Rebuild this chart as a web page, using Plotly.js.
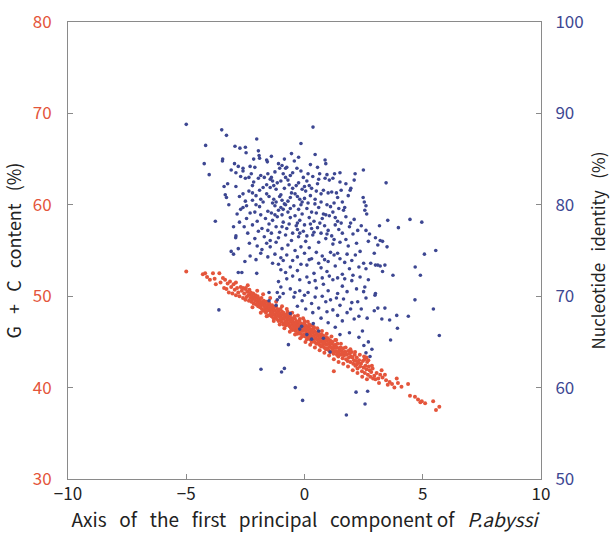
<!DOCTYPE html>
<html>
<head>
<meta charset="utf-8">
<script src="https://cdn.plot.ly/plotly-3.0.1.min.js"></script>
<style>html,body{margin:0;padding:0;background:#fff;}#chart{width:613px;height:543px;}</style>
</head>
<body>
<div id="chart"></div>
<script>
// G+C content (%) vs first principal component axis  [x, G+C]
const gcPoints = [
[-5.0,52.7],[-4.3,52.4],[-4.2,52.5],[-4.12,52.1],[-4.0,51.8],[-3.87,52.5],[-3.75,51.3],[-3.6,52.5],[-3.55,51.5],[-3.45,52.0],[-3.36,51.8],[-3.3,50.8],[-3.25,51.4],[-3.15,51.6],[-3.1,51.0],[-3.05,50.3],[-3.0,51.3],[-2.95,50.7],[-2.9,50.1],[-2.85,50.9],[-2.8,50.4],[-2.75,50.0],[-2.7,51.0],[-2.65,50.6],[-2.6,49.8],[-2.55,50.3],[-2.5,50.8],[-2.5,49.6],
[-2.48,50.9],[-2.45,49.9],[-2.42,50.5],[-2.38,50.1],[-2.35,49.5],[-2.33,50.7],[-2.31,50.2],
[-2.29,49.8],[-2.27,50.4],[-2.24,49.4],[-2.22,50.0],[-2.2,49.7],[-2.17,50.3],[-2.15,49.2],[-2.12,49.9],
[-2.09,49.5],[-2.07,50.1],[-2.05,49.1],[-2.03,49.8],[-2.0,49.4],[-1.98,50.0],[-1.96,48.9],[-1.94,49.6],[-1.92,49.2],
[-1.9,49.7],[-1.88,48.8],[-1.86,49.4],[-1.84,49.0],[-1.82,49.8],[-1.8,48.6],[-1.78,49.3],[-1.76,49.1],[-1.74,48.4],[-1.72,49.5],[-1.7,48.9],
[-1.69,49.3],[-1.67,48.6],[-1.65,49.0],[-1.63,48.2],[-1.61,49.4],[-1.59,48.8],[-1.57,48.5],[-1.55,49.1],[-1.53,47.9],[-1.51,48.7],
[-1.49,49.2],[-1.47,48.4],[-1.45,48.9],[-1.43,48.1],[-1.41,48.6],[-1.39,47.8],[-1.37,49.0],[-1.35,48.3],[-1.33,48.7],[-1.31,47.6],[-1.3,48.5],
[-1.29,48.8],[-1.27,48.0],[-1.25,48.4],[-1.23,47.7],[-1.21,48.9],[-1.19,48.2],[-1.17,47.5],[-1.15,48.6],[-1.13,47.9],[-1.11,48.3],[-1.1,47.3],
[-1.09,48.5],[-1.07,47.8],[-1.05,48.1],[-1.03,47.4],[-1.01,48.6],[-0.99,47.9],[-0.97,47.2],[-0.95,48.3],[-0.93,47.6],[-0.91,48.0],[-0.9,46.9],
[-0.89,48.2],[-0.87,47.5],[-0.85,47.9],[-0.83,47.1],[-0.81,47.7],[-0.79,46.8],[-0.77,48.0],[-0.75,47.3],[-0.73,47.6],[-0.71,46.9],[-0.7,47.4],[-0.72,48.3],
[-0.69,47.8],[-0.67,47.0],[-0.65,47.5],[-0.63,46.7],[-0.61,47.9],[-0.59,47.2],[-0.57,46.5],[-0.55,47.6],[-0.53,46.9],[-0.51,47.3],[-0.5,46.3],[-0.6,48.1],
[-0.49,47.5],[-0.47,46.7],[-0.45,47.1],[-0.43,46.4],[-0.41,47.6],[-0.39,46.9],[-0.37,46.2],[-0.35,47.3],[-0.33,46.6],[-0.31,47.0],[-0.3,45.9],[-0.42,47.8],
[-0.29,47.2],[-0.27,46.4],[-0.25,46.8],[-0.23,46.1],[-0.21,47.3],[-0.19,46.6],[-0.17,45.9],[-0.15,47.0],[-0.13,46.3],[-0.11,46.7],[-0.1,45.6],[-0.2,47.5],
[-0.09,46.9],[-0.07,46.2],[-0.05,46.6],[-0.03,45.8],[-0.01,47.0],[0.01,46.3],[0.03,45.6],[0.05,46.8],[0.07,46.0],[0.09,46.4],[0.1,45.3],[0.0,47.3],
[0.11,46.6],[0.13,45.9],[0.15,46.3],[0.17,45.5],[0.19,46.7],[0.21,46.0],[0.23,45.3],[0.25,46.4],[0.27,45.7],[0.29,46.1],[0.3,45.0],[0.2,46.9],
[0.31,46.3],[0.33,45.6],[0.35,46.0],[0.37,45.2],[0.39,46.4],[0.41,45.7],[0.43,45.0],[0.45,46.1],[0.47,45.4],[0.49,45.8],[0.5,44.8],[0.4,46.6],
[0.51,46.0],[0.53,45.3],[0.55,45.7],[0.57,44.9],[0.59,46.1],[0.61,45.4],[0.63,44.7],[0.65,45.8],[0.67,45.1],[0.69,45.5],[0.7,44.5],
[0.71,45.8],[0.73,45.0],[0.75,45.4],[0.77,44.6],[0.79,45.7],[0.81,45.1],[0.83,44.4],[0.85,45.5],[0.87,44.8],[0.89,45.2],[0.9,44.2],
[0.91,45.5],[0.93,44.7],[0.95,45.1],[0.97,44.3],[0.99,45.4],[1.01,44.8],[1.03,44.1],[1.05,45.2],[1.07,44.5],[1.09,44.9],[1.1,43.9],
[1.11,45.1],[1.13,44.4],[1.15,44.8],[1.17,44.0],[1.19,45.0],[1.21,44.3],[1.23,43.7],[1.25,44.6],[1.27,43.9],[1.29,44.4],[1.3,45.2],
[1.31,44.7],[1.33,44.0],[1.35,44.4],[1.37,43.6],[1.39,44.8],[1.41,43.9],[1.43,43.4],[1.45,44.3],[1.47,43.7],[1.49,44.1],
[1.52,44.4],[1.55,43.6],[1.58,44.0],[1.61,43.2],[1.64,44.3],[1.67,43.5],[1.7,43.9],[1.24,41.8],
[1.73,43.9],[1.76,43.1],[1.79,43.6],[1.82,42.9],[1.85,44.0],[1.88,43.3],[1.91,43.7],[1.94,42.8],[1.97,43.4],[2.0,43.9],
[2.03,43.3],[2.06,42.6],[2.09,43.0],[2.12,43.6],[2.15,42.4],[2.18,42.9],[2.21,43.3],[2.24,42.1],[2.27,42.7],
[2.31,43.0],[2.35,42.3],[2.39,42.6],[2.43,41.8],[2.47,42.9],[2.5,42.2],[2.52,43.4],[2.55,41.6],[2.58,42.4],[2.62,42.0],[2.65,42.8],[2.68,41.4],[2.72,42.3],[2.75,41.9],[2.78,41.2],[2.62,43.3],[2.7,43.0],
[2.82,41.7],[2.88,42.1],[2.95,41.3],[3.0,40.9],[3.05,41.6],[3.12,41.0],[3.2,41.4],[3.26,41.9],[3.3,41.1],[3.4,41.4],[3.45,40.8],[3.52,40.3],[3.6,40.6],[3.7,40.4],[3.8,40.0],[3.9,41.0],[3.95,40.5],[4.1,40.1],[4.38,40.4],[4.46,39.1],[4.67,39.0],[4.8,38.7],[4.9,38.4],[4.96,38.5],[5.1,38.3],[5.44,38.5],[5.56,37.55],[5.7,37.9],
[-2.4,51.2],[-2.2,48.8],[-2.0,50.6],[-1.85,48.2],[-1.75,50.2],[-1.6,47.8],[-1.45,49.8],[-1.3,47.3],[-1.2,49.4],[-1.05,46.9],[-0.95,48.9],[-0.85,46.5],[-0.75,48.6],[-0.62,46.1],[-0.52,48.2],[-0.4,45.8],[-0.28,47.9],[-0.18,45.4],[-0.06,47.6],[0.04,45.0],[0.14,47.2],[0.24,44.7],[0.34,46.8],[0.44,44.4],[0.54,46.5],[0.64,44.1],[0.74,46.2],[0.84,43.8],[0.94,45.9],[1.04,43.5],[1.14,45.6],[1.24,43.1],[1.34,45.2],[1.44,42.8],[1.54,44.8],[1.64,42.6],[1.74,44.4],[1.84,42.3],[1.94,44.2],[2.04,41.9],[2.14,43.9],[2.24,41.6],[2.34,43.6],[2.44,41.2],[2.54,43.1],[2.64,40.9],
[-1.0,47.6],[-0.8,47.2],[-0.4,46.6],[0.2,45.6],[0.6,45.0],[1.2,44.1],[-1.6,48.4],[-1.4,48.0],[-0.3,46.5],[0.8,44.9],[1.6,43.8],[2.2,42.5],[-3.4,50.9],[-3.8,51.9],[-2.9,51.5],[-2.6,50.9],[-3.2,50.4],[2.9,41.0],[3.15,40.5],[2.85,42.4]
];

// Nucleotide identity (%) vs first principal component axis  [x, identity]
const identityPoints = [
[-5.0,88.8],[0.36,88.5],[-3.5,88.2],[-3.3,87.6],[-2.02,87.2],[-4.18,86.5],[-0.15,86.7],
[-2.94,86.4],[-2.73,86.2],[-2.5,86.3],[-2.47,85.7],[-1.95,85.9],[-1.92,85.4],[-1.9,85.1],[0.45,85.5],
[-3.46,85.0],[-4.24,84.5],[-3.47,84.8],[-2.96,84.5],[-2.8,84.2],[-2.6,84.0],[-2.3,84.2],[-2.1,84.1],[-1.6,84.9],[-1.57,84.7],[-1.1,84.5],[-0.95,84.3],[-0.8,84.0],[-0.43,84.8],[-0.32,84.0],[0.87,84.9],[0.9,84.5],[-4.03,83.3],
[2.49,83.8],[2.14,83.4],[3.45,82.4],[2.1,82.7],[1.96,81.8],[1.93,81.6],[2.48,80.8],[2.53,80.3],[2.6,79.9],[2.55,79.4],[2.63,79.0],
[-2.9,83.5],[-2.7,83.1],[-2.5,82.9],[-2.35,83.0],[-3.4,82.0],[-3.25,82.3],[-3.35,81.1],[-3.3,80.8],[-3.2,80.0],[-2.6,81.2],[-2.35,81.5],[-2.2,81.3],[-2.05,81.0],[-1.9,81.6],[-1.55,83.4],[-1.45,82.8],[-1.4,83.0],[-1.35,82.6],[-0.9,83.4],[-0.8,83.0],[-0.7,82.7],[-0.6,83.2],[-0.5,83.5],[-1.0,81.1],[-0.95,80.5],[-0.85,80.1],[-1.0,79.7],[-1.1,79.4],[-0.9,79.5],[-0.8,80.0],[-0.3,80.9],[-0.2,80.6],[-0.1,80.3],[0.0,80.7],[0.15,80.2],[-2.6,79.7],[-2.45,79.9],[-2.7,79.5],[-2.2,80.5],[-2.05,80.0],[-1.9,79.8],[-1.75,80.3],[-0.5,81.8],[-0.35,82.1],[-0.1,81.7],[0.05,81.5],[0.2,82.1],[0.64,83.4],[0.95,83.3],[1.27,83.4],[0.87,82.9],[1.05,82.7],[1.2,82.9],[0.5,81.5],[0.7,81.2],[0.8,81.6],[1.0,81.3],[1.15,81.4],[1.35,81.3],[0.44,80.1],[0.6,79.7],[0.95,80.0],[1.1,79.8],[1.45,79.6],[1.6,80.3],[1.65,79.4],[1.7,79.7],[0.8,79.0],[0.9,78.9],[1.3,78.6],[-1.3,82.1],[-1.2,81.7],[-1.6,82.2],[-1.75,81.9],[-2.9,82.0],[-2.75,80.9],[-1.5,80.9],[-1.3,80.6],[-1.25,79.9],[-0.6,80.8],[-0.45,79.9],[-0.25,79.5],[0.3,79.2],[0.25,81.0],[-1.55,79.3],[-2.3,79.1],[-0.65,82.2],[1.5,82.5],[1.75,82.3],[1.85,81.0],[-3.1,83.8],[-2.15,82.5],[-1.95,82.9],[-0.05,83.0],[0.1,82.6],[0.35,83.1],
[-1.45,81.9],[-1.15,82.4],[-0.85,81.8],[-0.55,81.3],[-0.25,82.4],[0.0,82.0],[0.3,81.8],[0.55,82.3],[-1.85,80.6],[-1.6,81.2],[-1.35,80.2],[-1.05,80.9],[-0.7,80.4],[-0.4,81.2],[-0.15,80.0],[0.1,79.6],[0.45,80.6],[0.7,80.3],[1.25,80.2],[1.4,80.8],[1.55,81.6],[-2.1,79.2],[-1.85,78.9],[-1.4,79.1],[-1.15,78.7],[-0.95,78.9],[-0.7,79.2],[-0.4,78.8],[-0.1,79.0],[0.2,78.6],[0.5,79.1],[0.75,78.5],[1.05,78.8],[1.4,78.2],[1.75,78.7],[2.1,78.4],[-2.45,78.5],[-2.75,78.1],[-3.0,77.6],[-2.85,79.0],[-1.95,77.1],[-1.55,77.2],[-1.25,78.9],
[-0.95,77.6],[-0.65,77.9],[-0.3,77.3],[0.0,77.8],[0.3,77.4],[0.65,78.0],[0.95,76.8],[1.25,76.2],[1.55,78.0],[1.95,78.0],[2.25,77.2],
[-3.77,78.2],[-2.91,76.4],[-2.9,76.6],[-2.33,75.8],[-3.1,74.9],[-3.0,74.6],[-2.8,75.2],[-2.65,72.6],[-2.52,73.8],[-2.0,75.5],[-1.8,75.1],[-1.85,74.7],[-1.6,75.8],[-1.45,75.4],[-1.2,75.9],[-0.95,75.2],[-0.7,75.6],[-0.4,75.0],[-0.15,75.4],[0.2,75.3],[-2.2,77.8],[-2.0,78.2],[-1.8,77.4],[-1.65,78.5],[-1.5,77.9],[-1.35,78.3],[-1.2,77.6],[-1.05,77.0],[-0.9,78.1],[-0.75,77.4],[-0.6,78.6],[-0.5,76.9],[-0.35,77.7],[-0.2,78.3],[-0.05,77.1],[0.1,76.6],[0.25,77.9],[0.4,78.2],[0.55,77.5],[0.7,76.9],[0.85,77.7],[1.0,77.2],[1.15,76.6],[1.3,77.8],[1.45,77.3],[1.6,76.9],[1.75,76.2],[1.9,77.6],[2.05,76.8],[-1.7,76.5],[-1.4,76.9],[-1.1,76.4],[-0.8,76.7],[-0.55,76.1],[-0.25,76.5],[0.05,76.0],[0.35,76.7],[0.6,75.9],[0.9,76.3],[1.2,75.7],[1.5,75.9],[1.85,75.5],[2.2,75.8],[2.35,74.9],[-2.4,76.9],[-2.55,77.6],[-2.1,76.3],[-1.25,74.6],[-1.0,74.2],[-0.75,74.5],[-0.5,73.9],[-0.3,74.3],[0.0,74.7],[0.3,74.1],[0.5,74.8],[0.75,74.4],[1.0,73.8],[1.25,74.5],[1.5,74.1],[1.8,74.6],[2.0,73.9],[-1.1,73.5],[-1.0,72.9],[-0.8,72.6],[-0.6,73.2],[-0.3,72.8],[0.1,73.4],[0.4,72.5],[0.7,73.1],[0.95,72.7],[1.3,73.3],[1.6,72.4],[1.9,73.0],[2.5,73.6],[2.6,73.0],[2.8,73.6],[3.0,73.4],[3.2,73.3],[2.95,74.7],[3.1,75.6],[2.4,77.7],[2.6,77.2],[2.75,76.8],[3.0,76.4],[3.2,76.1],[3.3,76.0],[2.7,76.0],[3.52,78.3],[3.97,77.5],[3.17,77.7],[4.46,78.4],[4.96,78.1],[3.49,75.4],[5.55,75.0],[5.07,74.6],[4.68,73.2],[4.9,72.3],[3.74,72.3],[3.1,73.4],[3.4,73.4],[3.3,72.7],[2.7,71.8],[2.55,71.0],
[-2.3,74.4],[-2.05,74.0],[-1.55,74.3],[-1.35,73.6],[-0.9,73.9],[-0.15,73.5],[0.2,74.0],[0.6,73.6],[0.85,74.0],[1.1,74.8],[1.4,74.7],[1.7,73.7],[2.15,74.5],[2.3,73.2],
[-0.75,71.9],[-0.5,72.2],[-0.2,71.8],[0.1,72.1],[0.45,71.7],[0.75,72.0],[1.05,72.2],[1.4,72.0],[1.7,71.9],[2.05,72.3],[2.35,72.1],
[-2.02,72.5],[-2.8,72.6],[-1.1,71.6],[-1.0,71.0],[-1.15,70.4],[-1.05,69.9],[-0.6,70.8],[-0.4,70.4],[-0.45,69.9],[-0.2,70.6],[0.0,70.1],[-1.5,70.4],[-1.5,69.5],[-1.15,69.6],[-1.2,69.0],[-0.6,68.1],[0.2,71.5],[0.5,70.9],[0.8,71.3],[1.0,70.6],[1.2,71.8],[1.4,70.3],[1.6,71.1],[1.8,70.5],[2.0,71.7],[2.2,70.8],[2.6,69.8],[2.5,70.5],[2.98,70.1],[3.0,70.3],[0.3,69.2],[0.6,68.7],[0.9,69.4],[1.2,68.5],[1.5,69.0],[1.8,68.2],[2.1,67.5],[2.3,67.8],[2.0,69.3],[0.7,67.6],[1.0,67.1],[1.3,66.6],[1.6,67.3],[3.4,68.7],[3.1,68.7],[3.9,67.9],[4.39,67.8],[3.27,67.5],[3.6,67.4],[4.67,69.6],[5.45,68.6],[5.7,65.7],[3.64,65.2],[3.93,66.5],[2.95,68.4],
[-0.9,70.3],[-0.1,69.5],[0.15,70.4],[0.45,69.9],[0.75,70.0],[1.1,69.6],[1.35,69.8],[1.65,69.7],[2.25,69.4],[2.4,68.6],
[-0.3,68.9],[0.05,68.6],[0.35,68.2],[0.95,68.3],[1.4,67.9],[1.95,68.6],[2.65,67.6],
[-2.6,83.7],[-2.25,83.4],[-1.85,83.2],[-1.25,83.6],[-1.05,84.0],[-0.75,84.1],[-0.15,83.7],[0.15,83.4],[0.55,84.1],[1.5,83.5],[-2.15,85.0],[-1.4,85.3],[-0.85,85.0],[-0.55,85.6],[-0.25,85.2],[0.25,84.4],
[-3.62,68.5],[-0.12,66.7],[0.37,67.0],[-0.2,66.4],[0.1,65.8],[0.3,65.3],[-0.68,64.7],[1.08,63.9],[-1.84,62.0],[-0.97,61.7],[-0.85,62.1],[-0.39,60.0],[-0.08,58.6],[1.77,57.0],[2.18,59.5],[2.56,58.2],[2.67,59.6],[2.77,63.4],[2.6,63.8],
[2.51,64.6],[2.3,65.5],[2.45,66.2],[2.7,65.0],[2.85,64.2],[1.5,65.8],[1.9,66.0],[0.6,66.2],[0.8,65.4],
[-1.7,83.0],[-1.2,80.3],[-0.6,79.6],[-0.3,78.0],[0.4,77.0],[-1.45,76.1],[-0.2,76.9],[-2.2,82.1],[-2.5,80.4],[-1.0,82.6],[0.6,82.8],[1.2,79.2]
];

const xTicks = [-10, -5, 0, 5, 10];
const gcTicks = [30, 40, 50, 60, 70, 80];
const idTicks = [50, 60, 70, 80, 90, 100];

const RED = '#e4553b';
const BLUE = '#3d4792';
const FONT = '"Noto Sans CJK JP", "DejaVu Sans", sans-serif';
const sp2 = '\u00a0\u00a0\u00a0';

const traces = [
  {
    type: 'scatter', mode: 'markers',
    x: gcPoints.map(p => p[0]), y: gcPoints.map(p => p[1]),
    xaxis: 'x', yaxis: 'y',
    marker: {color: RED, size: 4},
    hoverinfo: 'x+y', showlegend: false
  },
  {
    type: 'scatter', mode: 'markers',
    x: identityPoints.map(p => p[0]), y: identityPoints.map(p => p[1]),
    xaxis: 'x', yaxis: 'y2',
    marker: {color: BLUE, size: 3.6},
    hoverinfo: 'x+y', showlegend: false
  }
];

const layout = {
  width: 613, height: 543,
  margin: {l: 68, r: 72, t: 22, b: 64},
  paper_bgcolor: '#ffffff', plot_bgcolor: '#ffffff',
  font: {family: FONT, color: '#222'},
  showlegend: false,
  xaxis: {
    range: [-10, 10], tickvals: xTicks, ticktext: xTicks.map(v => v < 0 ? '\u2212' + Math.abs(v) : String(v)),
    showgrid: false, zeroline: false,
    showline: true, linecolor: '#8a8a8a', linewidth: 1, mirror: true,
    ticks: 'inside', ticklen: 5, tickcolor: '#8a8a8a',
    tickfont: {size: 17, color: '#222', family: FONT},
    title: {text: ['Axis', 'of', 'the', 'first', 'principal', 'component\u00a0of', '<i>P.abyssi</i>'].join(sp2),
            font: {size: 19, color: '#222', family: FONT}, standoff: 9}
  },
  yaxis: {
    range: [30, 80], tickvals: gcTicks,
    showgrid: false, zeroline: false,
    showline: true, linecolor: '#8a8a8a', linewidth: 1,
    ticks: 'inside', ticklen: 5, tickcolor: '#8a8a8a',
    ticklabelstandoff: 12,
    tickfont: {size: 17, color: RED, family: FONT},
    title: {text: ['G', '+', 'C', 'content', '(%)'].join(sp2),
            font: {size: 18, color: '#222', family: FONT}, standoff: 10}
  },
  yaxis2: {
    range: [50, 100], tickvals: idTicks, overlaying: 'y', side: 'right',
    showgrid: false, zeroline: false,
    showline: true, linecolor: '#8a8a8a', linewidth: 1,
    ticks: 'inside', ticklen: 5, tickcolor: '#8a8a8a',
    ticklabelstandoff: 10,
    tickfont: {size: 17, color: BLUE, family: FONT},
    title: {text: ['Nucleotide', 'identity', '(%)'].join(sp2),
            font: {size: 17, color: '#222', family: FONT}, standoff: 10}
  }
};

Plotly.newPlot('chart', traces, layout, {displayModeBar: false, staticPlot: true});
</script>
</body>
</html>
